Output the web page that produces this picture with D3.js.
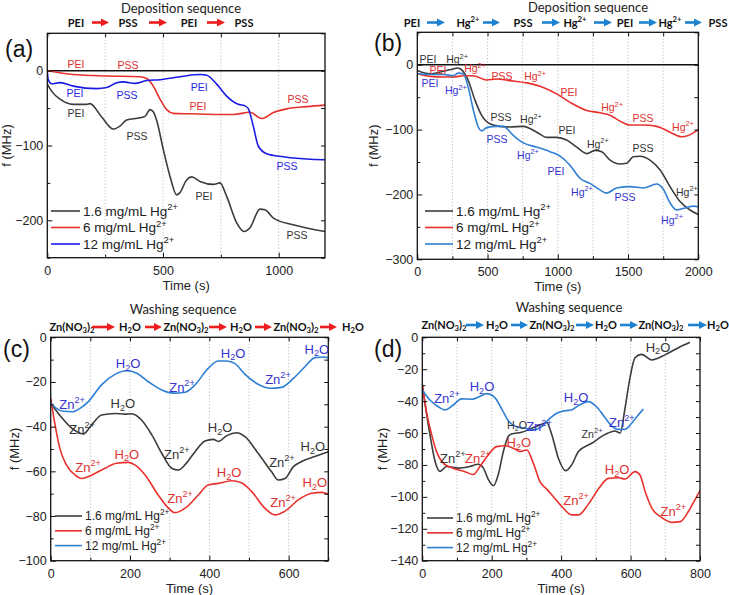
<!DOCTYPE html>
<html><head><meta charset="utf-8">
<script src="https://cdn.jsdelivr.net/npm/d3@7"></script>
<style>body{margin:0;background:#fff}svg{display:block}</style>
</head><body><svg id="c" width="729" height="595"></svg>
<script>
// ---------------- DATA ----------------
const seriesNames = ["1.6 mg/mL Hg^{2+}", "6 mg/mL Hg^{2+}", "12 mg/mL Hg^{2+}"];

// Panel (a) deposition PEI/PSS  [time s, f MHz]
const aBlack = [[0,-18],[20,-28],[55,-38],[112,-45],[170,-45],[184,-44],[235,-62],[285,-78],[314,-74],[343,-66],[400,-63],[422,-61],[444,-52],[458,-55],[473,-67],[501,-105],[530,-141],[559,-166],[573,-163],[602,-146],[624,-142],[660,-148],[717,-152],[746,-150],[775,-168],[818,-203],[850,-215],[876,-210],[919,-185],[941,-186],[977,-197],[1063,-206],[1200,-215]];
const aRed = [[0,0],[112,-5],[257,-7],[400,-8],[429,-10.5],[458,-20.6],[487,-38],[516,-52],[545,-57],[617,-57.6],[746,-58.5],[804,-58.5],[876,-55.6],[926,-64],[977,-56],[1034,-51],[1121,-48],[1200,-46]];
const aBlue = [[0,0],[4,-12],[19,-17.5],[55,-16],[112,-20.6],[213,-24],[257,-22.5],[300,-16],[329,-15],[379,-17],[429,-13],[487,-12],[573,-8],[660,-5],[689,-6],[732,-18],[775,-34],[825,-45],[854,-47],[869,-51],[890,-74],[912,-101],[948,-111],[1020,-115],[1121,-118],[1200,-119]];
const aLabels = [
  ["PEI",124,8,1],["PSS",349,7,1],
  ["PEI",120,-30,2],["PSS",344,-33,2],["PEI",656,-22,2],["PSS",1036,-128,2],
  ["PEI",651,-48,1],["PSS",1083,-38,1],
  ["PEI",124,-57,0],["PSS",388,-87,0],["PEI",677,-168,0],["PSS",1079,-220,0]];

// Panel (b) deposition PEI/Hg/PSS
const bBlack = [[0,-9],[90,-14],[185,-10],[256,-6.6],[288,-5],[316,-8],[363,-24.5],[411,-55],[458,-78],[517,-91],[588,-95],[660,-96],[755,-95],[850,-104],[921,-112],[992,-112],[1063,-116],[1135,-127],[1206,-137],[1265,-132],[1312,-134],[1372,-147],[1443,-153],[1490,-152],[1537,-142],[1585,-141],[1656,-147],[1727,-162],[1799,-188],[1870,-211],[1941,-224],[2000,-231]];
const bRed = [[0,-14],[90,-18],[185,-19],[256,-19],[327,-17],[398,-17],[494,-23.5],[565,-22],[660,-24.5],[778,-28],[897,-35],[992,-45],[1087,-58],[1206,-70.5],[1300,-74],[1372,-78],[1443,-87],[1514,-93],[1609,-93],[1704,-95],[1799,-104],[1882,-111],[1929,-109],[2000,-100]];
const bBlue = [[0,-14],[90,-15],[185,-15],[256,-17],[292,-13],[327,-14],[363,-35],[399,-70],[434,-96],[458,-102],[494,-97],[565,-95],[612,-95],[683,-109],[754,-120.5],[850,-127],[944,-134],[1016,-141],[1087,-155],[1158,-175],[1229,-183],[1300,-193],[1348,-198],[1419,-190],[1514,-188],[1609,-190],[1704,-184],[1751,-192],[1799,-213],[1846,-224],[1917,-220],[1965,-218],[2000,-219]];
const bLabels = [
  ["PEI",76,9,0],["Hg^{2+}",283,8,0],["PEI",147,-8,1],["Hg^{2+}",411,-6,1],
  ["PEI",90,-29,2],["Hg^{2+}",275,-40,2],
  ["PSS",603,-17,1],["Hg^{2+}",838,-18,1],["PEI",1080,-43,1],["Hg^{2+}",1386,-66,1],["PSS",1606,-83,1],["Hg^{2+}",1891,-96,1],
  ["PSS",595,-81,0],["Hg^{2+}",809,-84,0],["PEI",1065,-101,0],["Hg^{2+}",1285,-122,0],["PSS",1606,-129,0],["Hg^{2+}",1919,-196,0],
  ["PSS",567,-115,2],["Hg^{2+}",788,-139,2],["PEI",987,-164,2],["Hg^{2+}",1172,-196,2],["PSS",1478,-204,2],["Hg^{2+}",1813,-239,2]];

// Panel (c) washing
const cBlack = [[0,-29.5],[28,-36],[53,-40.7],[82,-43.3],[103,-39.3],[128,-34.8],[162,-34.1],[187,-34.4],[204,-34.2],[229,-37],[255,-43.7],[280,-51.9],[305,-58.6],[322,-59.4],[339,-57],[364,-51.2],[389,-46.4],[410,-45.7],[423,-46.6],[444,-44],[469,-42.7],[490,-44.5],[523,-51.9],[557,-60.2],[574,-63.9],[591,-63.2],[612,-57.9],[633,-55.6],[666,-53.4],[700,-51.2]];
const cRed = [[0,-27.3],[11,-39.2],[23,-49.7],[40,-57.2],[61,-61.6],[78,-63.2],[103,-61.7],[137,-58.6],[166,-56.4],[196,-56],[213,-57.2],[238,-61.6],[271,-70.6],[297,-76.5],[313,-78.5],[339,-76.5],[372,-70.6],[397,-66.1],[423,-65.4],[456,-64.2],[481,-65.1],[507,-69.1],[540,-76.5],[565,-79.5],[591,-77.8],[624,-72.8],[658,-69.8],[683,-69.4],[700,-70.3]];
const cBlue = [[0,-29.5],[28,-33],[56,-33.3],[74,-31.8],[95,-28.8],[128,-21.3],[162,-16.6],[192,-15],[216,-16],[246,-19.9],[280,-23.6],[309,-25],[339,-24.6],[364,-21.3],[397,-13.9],[423,-10.6],[444,-10.6],[465,-11.8],[490,-16.6],[523,-21],[553,-22.8],[582,-22.4],[612,-18.4],[641,-13.2],[666,-9.1],[687,-8.8],[700,-9.1]];
const cLabels = [
  ["Zn^{2+}",54,-29.9,2],["H_{2}O",195,-11.5,2],["Zn^{2+}",331,-22.3,2],["H_{2}O",460,-7,2],["Zn^{2+}",573,-18.7,2],["H_{2}O",671,-5.2,2],
  ["Zn^{2+}",79,-41,0],["H_{2}O",182,-29.4,0],["Zn^{2+}",318,-52.2,0],["H_{2}O",427,-40.2,0],["Zn^{2+}",583,-55.8,0],["H_{2}O",661,-48.7,0],
  ["Zn^{2+}",94,-58,1],["H_{2}O",192,-52.2,1],["Zn^{2+}",326,-72,1],["H_{2}O",450,-60.3,1],["Zn^{2+}",586,-73.7,1],["H_{2}O",666,-64.8,1]];

// Panel (d) washing
const dBlack = [[0,-30],[22,-61],[37,-78],[51,-84],[70,-81],[104,-82],[137,-81],[161,-79.6],[176,-82],[190,-89],[205,-93],[219,-86],[233,-72],[248,-62],[257,-60.6],[286,-59.5],[315,-57],[349,-54],[358,-53.3],[373,-61],[392,-75.8],[413,-83.6],[430,-80],[450,-71.6],[488,-66.4],[526,-61],[555,-58.7],[570,-60],[584,-44.5],[598,-25.7],[613,-12.7],[632,-10.7],[661,-14.2],[699,-11],[738,-6.5],[771,-3.1]];
const dRed = [[0,-29.5],[12,-46.6],[27,-61],[41,-71.6],[61,-79],[85,-81.7],[123,-84.2],[147,-86],[166,-81],[190,-73.7],[214,-68.5],[238,-68],[267,-70],[281,-71.6],[301,-70.6],[320,-79],[339,-90.5],[358,-95],[382,-101],[406,-107],[430,-111.3],[450,-111.3],[478,-104.7],[512,-93.6],[536,-88.4],[565,-88],[584,-88.8],[613,-84.2],[627,-86.3],[642,-96.7],[661,-107],[690,-113],[719,-116],[743,-115.5],[767,-109],[785,-102],[800,-96]];
const dBlue = [[0,-33],[22,-39.3],[46,-43.5],[65,-45.5],[89,-42.4],[113,-38.6],[142,-38.8],[166,-37],[185,-35.3],[209,-37.8],[229,-45],[248,-52.4],[272,-56],[296,-57],[320,-58],[344,-56],[363,-51.8],[387,-47.6],[411,-46],[430,-45.5],[450,-42.8],[478,-40.3],[502,-43.5],[526,-50.3],[546,-55.6],[565,-57.7],[584,-57.7],[603,-53.9],[622,-48.7],[637,-45]];
const dLabels = [
  ["Zn^{2+}",71,-38,2],["H_{2}O",172,-31,2],["Zn^{2+}",336,-56,2],["H_{2}O",443,-37.4,2],["Zn^{2+}",575,-53,2],
  ["H_{2}O",273,-55,0,"s"],["Zn^{2+}",489,-60.6,0,"s"],["Zn^{2+}",88,-75.6,0],["H_{2}O",679,-6,0],
  ["Zn^{2+}",160,-75.6,1],["H_{2}O",278,-65.6,1],["Zn^{2+}",443,-102,1],["H_{2}O",561,-83,1],["Zn^{2+}",723,-109,1]];

// header sequences
const seqA = ["PEI","PSS","PEI","PSS"];
const seqB = ["PEI","Hg^{2+}","PSS","Hg^{2+}","PEI","Hg^{2+}","PSS"];
const seqC = ["Zn(NO_{3})_{2}","H_{2}O","Zn(NO_{3})_{2}","H_{2}O","Zn(NO_{3})_{2}","H_{2}O"];

// ---------------- DRAW ----------------
const svg = d3.select("#c");
const AX = "Liberation Sans, Arial, sans-serif";
const HF = "Lato, 'Open Sans', sans-serif";

function rich(sel, str, fs) {
  const parts = str.split(/(\^\{[^}]*\}|_\{[^}]*\})/).filter(s => s.length);
  let cur = 0;
  parts.forEach(p => {
    let txt = p, size = fs, target = 0;
    if (p.startsWith("^{")) { txt = p.slice(2, -1); size = fs * 0.7; target = -fs * 0.42; }
    else if (p.startsWith("_{")) { txt = p.slice(2, -1); size = fs * 0.7; target = fs * 0.22; }
    const t = sel.append("tspan").attr("font-size", size).text(txt);
    if (target - cur !== 0) t.attr("dy", target - cur);
    cur = target;
  });
}

function panel(cfg) {
  const x = d3.scaleLinear().domain(cfg.xDom).range([cfg.L, cfg.R]);
  const y = d3.scaleLinear().domain(cfg.yDom).range([cfg.B, cfg.T]);
  const g = svg.append("g");
  const id = "clip" + cfg.name;
  g.append("clipPath").attr("id", id).append("rect")
    .attr("x", cfg.L).attr("y", cfg.T).attr("width", cfg.R - cfg.L).attr("height", cfg.B - cfg.T);

  g.selectAll("line.grid").data(cfg.grid).join("line").attr("class", "grid")
    .attr("x1", d => x(d)).attr("x2", d => x(d)).attr("y1", cfg.T).attr("y2", cfg.B)
    .attr("stroke", "#b0b0b0").attr("stroke-width", 0.8).attr("stroke-dasharray", "1.2,2");

  if (cfg.zero) g.append("line").attr("x1", cfg.L).attr("x2", cfg.R)
    .attr("y1", y(0)).attr("y2", y(0)).attr("stroke", "#111").attr("stroke-width", 1.5);

  const line = d3.line().x(d => x(d[0])).y(d => y(d[1])).curve(d3.curveMonotoneX);
  const sg = g.append("g").attr("clip-path", `url(#${id})`);
  cfg.series.forEach((s, i) => {
    sg.append("path").attr("d", line(s)).attr("fill", "none")
      .attr("stroke", cfg.colors[i]).attr("stroke-width", 1.6).attr("stroke-linejoin", "round");
  });

  const fmt = v => cfg.xLab.includes(v) ? d3.format("d")(v) : "";
  const fmtY = v => cfg.yLab.includes(v) ? d3.format("d")(v) : "";
  const style = a => {
    a.selectAll("text").attr("font-family", AX).attr("font-size", 12.5).attr("fill", "#222");
    a.selectAll("line").attr("stroke", "#111").attr("stroke-width", 1);
    a.select(".domain").remove();
  };
  const minorX = cfg.xTicks.filter(v => !cfg.xLab.includes(v));
  const minorY = cfg.yTicks.filter(v => !cfg.yLab.includes(v));
  g.append("g").attr("transform", `translate(0,${cfg.B})`)
    .call(d3.axisBottom(x).tickValues(cfg.xLab).tickSize(-5).tickPadding(8).tickFormat(fmt)).call(style);
  g.append("g").attr("transform", `translate(0,${cfg.B})`)
    .call(d3.axisBottom(x).tickValues(minorX).tickSize(-3).tickFormat("")).call(style);
  g.append("g").attr("transform", `translate(0,${cfg.T})`)
    .call(d3.axisTop(x).tickValues(cfg.xTicks).tickSize(-4).tickFormat("")).call(style);
  g.append("g").attr("transform", `translate(${cfg.L},0)`)
    .call(d3.axisLeft(y).tickValues(cfg.yLab).tickSize(-5).tickPadding(4).tickFormat(fmtY)).call(style);
  g.append("g").attr("transform", `translate(${cfg.L},0)`)
    .call(d3.axisLeft(y).tickValues(minorY).tickSize(-3).tickFormat("")).call(style);
  g.append("g").attr("transform", `translate(${cfg.R},0)`)
    .call(d3.axisRight(y).tickValues(cfg.yTicks).tickSize(-4).tickFormat("")).call(style);

  g.append("rect").attr("x", cfg.L).attr("y", cfg.T).attr("width", cfg.R - cfg.L).attr("height", cfg.B - cfg.T)
    .attr("fill", "none").attr("stroke", "#111").attr("stroke-width", 1.3);

  g.append("text").attr("x", (cfg.L + cfg.R) / 2).attr("y", cfg.B + 32).attr("text-anchor", "middle")
    .attr("font-family", AX).attr("font-size", 13).attr("fill", "#222").text("Time (s)");
  g.append("text").attr("transform", `translate(${cfg.yTitleX},${(cfg.T + cfg.B) / 2}) rotate(-90)`)
    .attr("text-anchor", "middle").attr("font-family", AX).attr("font-size", 13).attr("fill", "#222").text("f (MHz)");

  g.append("text").attr("x", cfg.letterX).attr("y", cfg.letterY).attr("font-family", AX)
    .attr("font-size", 23).attr("fill", "#111").text(cfg.letter);

  cfg.labels.forEach(l => {
    const small = l[4] === "s";
    const fs = small ? cfg.labFs * 0.82 : cfg.labFs;
    const t = g.append("text").attr("x", x(l[1])).attr("y", y(l[2]) + fs * 0.36)
      .attr("text-anchor", "middle").attr("font-family", AX).attr("fill", cfg.labColors[l[3]]);
    rich(t, l[0], fs);
  });

  seriesNames.forEach((n, i) => {
    const ly = cfg.legY + i * cfg.legDy;
    g.append("line").attr("x1", cfg.legX).attr("x2", cfg.legX + cfg.legW).attr("y1", ly).attr("y2", ly)
      .attr("stroke", cfg.colors[i]).attr("stroke-width", 1.6);
    const t = g.append("text").attr("x", cfg.legX + cfg.legW + 3).attr("y", ly + cfg.legFs * 0.36)
      .attr("font-family", AX).attr("fill", "#222");
    rich(t, n, cfg.legFs);
  });
}

function header(title, tx, ty, items, cx, rowY, arrows, color) {
  const g = svg.append("g");
  g.append("text").attr("x", tx).attr("y", ty).attr("text-anchor", "middle")
    .attr("font-family", HF).attr("font-size", 13).attr("fill", "#222").text(title);
  items.forEach((s, i) => {
    const t = g.append("text").attr("x", cx[i]).attr("y", rowY).attr("text-anchor", "middle")
      .attr("font-family", HF).attr("font-weight", "bold").attr("font-size", 11).attr("fill", "#111");
    rich(t, s, 11);
  });
  arrows.forEach(a => {
    const ay = rowY - 4;
    g.append("line").attr("x1", a[0]).attr("x2", a[1] - 6).attr("y1", ay).attr("y2", ay)
      .attr("stroke", color).attr("stroke-width", 2.6);
    g.append("path").attr("d", `M${a[1] - 8},${ay - 4}L${a[1]},${ay}L${a[1] - 8},${ay + 4}Z`).attr("fill", color);
  });
}

const BLK = "#3c3c3c", RED = "#e8312c", BLUEA = "#1a1ae6", BLUE = "#2f7fd2", BLUET = "#3434d0";

panel({name: "a", L: 47.3, R: 325, T: 33.3, B: 257.7, xDom: [0, 1200], yDom: [-250, 50],
  xLab: [0, 500, 1000], xTicks: [0, 250, 500, 750, 1000],
  yLab: [-200, -100, 0], yTicks: [-250, -200, -150, -100, -50, 0, 50],
  grid: [250, 500, 750, 1000], zero: true,
  series: [aBlack, aRed, aBlue], colors: [BLK, RED, BLUEA],
  labels: aLabels, labColors: ["#333", "#e03030", "#2828e0"], labFs: 10.5,
  legX: 51, legY: 211, legDy: 16.5, legW: 29, legFs: 13.5,
  yTitleX: 11, letter: "(a)", letterX: 5, letterY: 57});

panel({name: "b", L: 417.3, R: 698.3, T: 32.3, B: 259.3, xDom: [0, 2000], yDom: [-300, 50],
  xLab: [0, 500, 1000, 1500, 2000], xTicks: [0, 250, 500, 750, 1000, 1250, 1500, 1750, 2000],
  yLab: [-300, -200, -100, 0], yTicks: [-300, -250, -200, -150, -100, -50, 0, 50],
  grid: [250, 500, 750, 1000, 1250, 1500, 1750], zero: true,
  series: [bBlack, bRed, bBlue], colors: [BLK, RED, BLUE],
  labels: bLabels, labColors: ["#333", "#e03030", BLUET], labFs: 10.5,
  legX: 425, legY: 211, legDy: 16.5, legW: 28, legFs: 13.5,
  yTitleX: 378, letter: "(b)", letterX: 374, letterY: 51});

panel({name: "c", L: 50.7, R: 328.3, T: 337.3, B: 560.7, xDom: [0, 700], yDom: [-100, 0],
  xLab: [0, 200, 400, 600], xTicks: [0, 100, 200, 300, 400, 500, 600, 700],
  yLab: [-100, -80, -60, -40, -20, 0], yTicks: d3.range(-100, 1, 10),
  grid: [100, 200, 300, 400, 500, 600], zero: false,
  series: [cBlack, cRed, cBlue], colors: [BLK, RED, BLUE],
  labels: cLabels, labColors: ["#333", "#e03030", BLUET], labFs: 13,
  legX: 55, legY: 516, legDy: 14.8, legW: 27, legFs: 12,
  yTitleX: 19, letter: "(c)", letterX: 3, letterY: 357});

panel({name: "d", L: 422.3, R: 700, T: 337.3, B: 560.7, xDom: [0, 800], yDom: [-140, 0],
  xLab: [0, 200, 400, 600, 800], xTicks: d3.range(0, 801, 100),
  yLab: [-140, -120, -100, -80, -60, -40, -20, 0], yTicks: d3.range(-140, 1, 10),
  grid: [100, 200, 300, 400, 500, 600, 700], zero: false,
  series: [dBlack, dRed, dBlue], colors: [BLK, RED, BLUE],
  labels: dLabels, labColors: ["#333", "#e03030", BLUET], labFs: 13,
  legX: 427, legY: 518, legDy: 14.8, legW: 26, legFs: 12,
  yTitleX: 387, letter: "(d)", letterX: 374, letterY: 357});

header("Deposition sequence", 181, 12.5, seqA, [76, 128, 189, 244], 26.5,
  [[92, 109], [149, 167], [207, 225]], "#ee1c1c");
header("Deposition sequence", 588, 11.5, seqB, [412, 468, 523, 575, 625, 670, 718], 26.5,
  [[427, 445], [483, 500], [542, 560], [594, 612], [639, 657], [685, 702]], "#1f82d0");
header("Washing sequence", 183, 314, seqC, [72, 130, 186, 241, 296, 353], 331,
  [[92, 115], [145, 162], [209, 227], [255, 272], [320, 337]], "#ee1c1c");
header("Washing sequence", 569, 312, seqC, [444, 497, 552, 606, 661, 718], 329,
  [[466, 484], [511, 528], [576, 594], [620, 638], [688, 707]], "#1f82d0");
</script></body></html>
